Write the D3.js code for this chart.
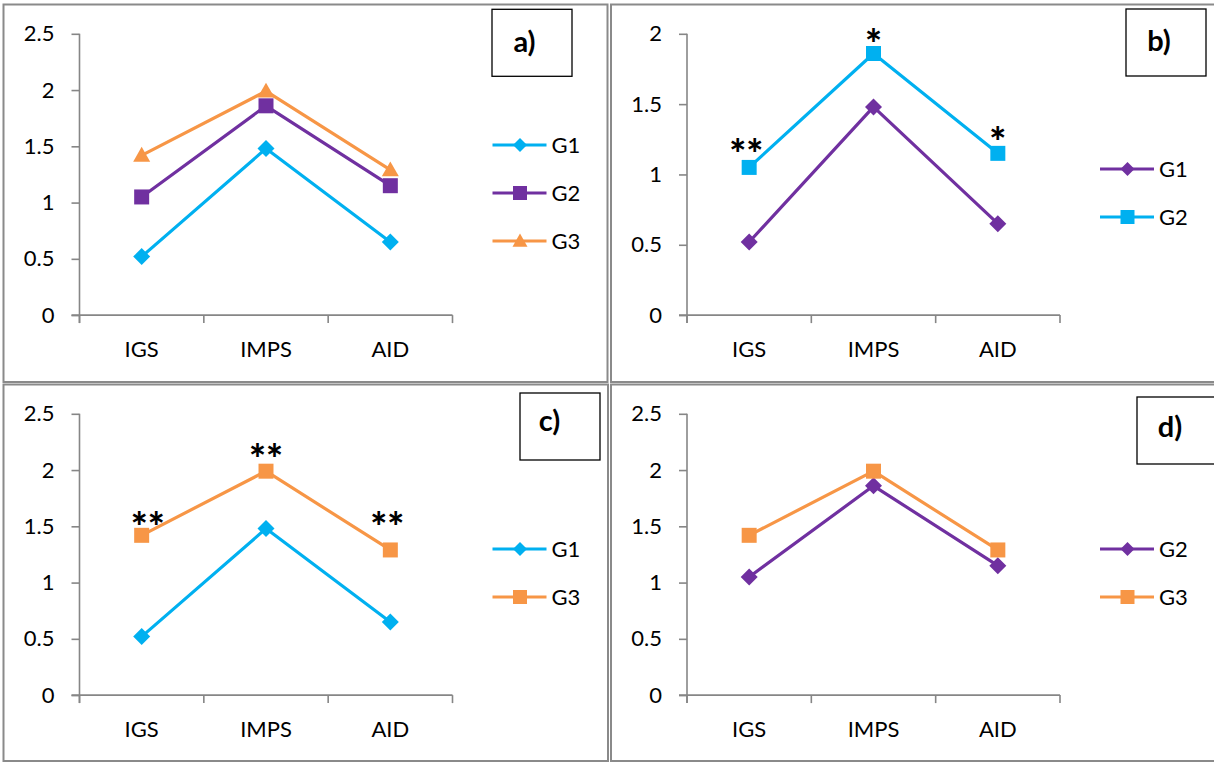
<!DOCTYPE html>
<html>
<head>
<meta charset="utf-8">
<script src="https://cdn.jsdelivr.net/npm/d3@7"></script>
<style>
  html, body { margin: 0; padding: 0; background: #fff; }
  svg { display: block; }
  text { font-family: Lato, "Open Sans", sans-serif; }
</style>
</head>
<body>
<svg id="chart" width="1214" height="762"></svg>
<script>
// ---------- data ----------
const categories = ["IGS", "IMPS", "AID"];
const g1Values = [0.52, 1.48, 0.65];
const g2Values = [1.05, 1.86, 1.15];
const g3Values = [1.42, 1.99, 1.29];

const ticksA = [0, 0.5, 1, 1.5, 2, 2.5];
const ticksB = [0, 0.5, 1, 1.5, 2];

const panelLabels = ["a)", "b)", "c)", "d)"];

// significance marks: [category, text]
const marksB = [["IGS", "**"], ["IMPS", "*"], ["AID", "*"]];
const marksC = [["IGS", "**"], ["IMPS", "**"], ["AID", "**"]];

// ---------- styles ----------
const CYAN = "#00B0F0", PURPLE = "#7030A0", ORANGE = "#F79646";
const AXIS = "#868686";

const panels = [
  { x: 3.5, y: 4.5, w: 604, h: 377.5, yMax: 2.5, ticks: ticksA, label: panelLabels[0],
    box: [488.5, 4.8], labelPos: [521, 47],
    series: [
      { name: "G1", values: g1Values, color: CYAN, shape: "diamond" },
      { name: "G2", values: g2Values, color: PURPLE, shape: "square" },
      { name: "G3", values: g3Values, color: ORANGE, shape: "triangle" }
    ], marks: [] },
  { x: 611, y: 4.5, w: 610, h: 377.5, yMax: 2, ticks: ticksB, label: panelLabels[1],
    box: [515, 4.5], labelPos: [548, 46],
    series: [
      { name: "G1", values: g1Values, color: PURPLE, shape: "diamond" },
      { name: "G2", values: g2Values, color: CYAN, shape: "square" }
    ], marks: marksB, markSeries: 1, markOffsets: [20, 17, 18], markDx: [-3, 0, 0] },
  { x: 3.5, y: 384.5, w: 604.5, h: 376.5, yMax: 2.5, ticks: ticksA, label: panelLabels[2],
    box: [516.5, 8.5], labelPos: [546, 46],
    series: [
      { name: "G1", values: g1Values, color: CYAN, shape: "diamond" },
      { name: "G3", values: g3Values, color: ORANGE, shape: "square" }
    ], marks: marksC, markSeries: 1, markOffsets: [15, 19, 30], markDx: [6, 0, -3] },
  { x: 611, y: 384.5, w: 610, h: 376.5, yMax: 2.5, ticks: ticksA, label: panelLabels[3],
    box: [526, 12.5], labelPos: [559, 52],
    series: [
      { name: "G2", values: g2Values, color: PURPLE, shape: "diamond" },
      { name: "G3", values: g3Values, color: ORANGE, shape: "square" }
    ], marks: [] }
];

const svg = d3.select("#chart");

function shapePath(shape, size) {
  const s = size / 2;
  if (shape === "diamond") return `M0,${-s}L${s},0L0,${s}L${-s},0Z`;
  if (shape === "square") return `M${-s},${-s}H${s}V${s}H${-s}Z`;
  return `M0,${-s}L${s},${s * 0.75}L${-s},${s * 0.75}Z`;
}
const markerSize = { diamond: 17, square: 15, triangle: 17 };
const legendMarkerSize = { diamond: 14, square: 14, triangle: 15 };

panels.forEach((p, pi) => {
  const g = svg.append("g").attr("transform", `translate(${p.x},${p.y})`);

  g.append("rect")
    .attr("x", 0).attr("y", 0).attr("width", p.w).attr("height", p.h)
    .attr("fill", "none").attr("stroke", "#8a8a8a").attr("stroke-width", 2);

  const plotL = 76, plotT = 29.3, plotW = 373, plotH = 281.3;
  const plot = g.append("g").attr("transform", `translate(${plotL},${plotT})`);

  const x = d3.scaleBand().domain(categories).range([0, plotW]).padding(0);
  const y = d3.scaleLinear().domain([0, p.yMax]).range([plotH, 0]);
  const cx = c => x(c) + x.bandwidth() / 2;

  const yAxis = d3.axisLeft(y).tickValues(p.ticks).tickSize(8).tickPadding(17)
    .tickFormat(d3.format("~g"));
  const ya = plot.append("g").call(yAxis);
  ya.select(".domain").remove();
  ya.append("line").attr("x1", 0).attr("x2", 0).attr("y1", 0).attr("y2", plotH + 8)
    .attr("stroke", AXIS).attr("stroke-width", 1.6);
  ya.selectAll(".tick line").attr("stroke", AXIS).attr("stroke-width", 1.6);
  ya.selectAll(".tick text").attr("fill", "#000").style("font-size", "22px")
    .attr("font-family", "Lato, sans-serif");

  const xa = plot.append("g").attr("transform", `translate(0,${plotH})`);
  xa.append("line").attr("x1", -8).attr("x2", plotW).attr("y1", 0).attr("y2", 0)
    .attr("stroke", AXIS).attr("stroke-width", 1.6);
  const boundaries = [0, 1, 2, 3].map(i => i * x.bandwidth());
  xa.selectAll("line.tk").data(boundaries).join("line").attr("class", "tk")
    .attr("x1", d => d).attr("x2", d => d).attr("y1", 0).attr("y2", 8)
    .attr("stroke", AXIS).attr("stroke-width", 1.6);
  xa.selectAll("text.cat").data(categories).join("text").attr("class", "cat")
    .attr("x", d => cx(d)).attr("y", 42)
    .attr("text-anchor", "middle").attr("fill", "#000").style("font-size", "22px")
    .text(d => d);

  const line = d3.line().x((d, i) => cx(categories[i])).y(d => y(d));
  p.series.forEach(s => {
    plot.append("path").datum(s.values).attr("d", line)
      .attr("fill", "none").attr("stroke", s.color).attr("stroke-width", 3.2)
      .attr("stroke-linejoin", "round");
  });
  p.series.forEach(s => {
    plot.selectAll(null).data(s.values).join("path")
      .attr("transform", (d, i) => `translate(${cx(categories[i])},${y(d)})`)
      .attr("d", shapePath(s.shape, markerSize[s.shape]))
      .attr("fill", s.color);
  });

  p.marks.forEach((m, i) => {
    const idx = categories.indexOf(m[0]);
    const v = p.series[p.markSeries].values[idx];
    plot.append("text")
      .attr("x", cx(m[0]) + p.markDx[i])
      .attr("y", y(v) - p.markOffsets[i] + 22)
      .attr("text-anchor", "middle").attr("font-weight", "900")
      .style("font-size", "40px").attr("fill", "#000")
      .text(m[1]);
  });

  const n = p.series.length;
  const legTop = 188.5 - (n - 1) * 48 / 2;
  p.series.forEach((s, i) => {
    const ly = legTop + i * 48;
    const lg = g.append("g").attr("transform", `translate(0,${ly})`);
    lg.append("line").attr("x1", 489).attr("x2", 543).attr("y1", 0).attr("y2", 0)
      .attr("stroke", s.color).attr("stroke-width", 3.2);
    lg.append("path").attr("transform", "translate(516.5,0)")
      .attr("d", shapePath(s.shape, legendMarkerSize[s.shape])).attr("fill", s.color);
    lg.append("text").attr("x", 548).attr("y", 0).attr("dy", "0.35em")
      .attr("fill", "#000").style("font-size", "22px").text(s.name);
  });

  g.append("rect").attr("x", p.box[0]).attr("y", p.box[1]).attr("width", 80).attr("height", 67)
    .attr("fill", "#fff").attr("stroke", "#000").attr("stroke-width", 1.3);
  g.append("text").attr("x", p.labelPos[0]).attr("y", p.labelPos[1])
    .attr("text-anchor", "middle").attr("font-weight", "bold")
    .style("font-size", "29px").attr("fill", "#000").text(p.label);
});
</script>
</body>
</html>
